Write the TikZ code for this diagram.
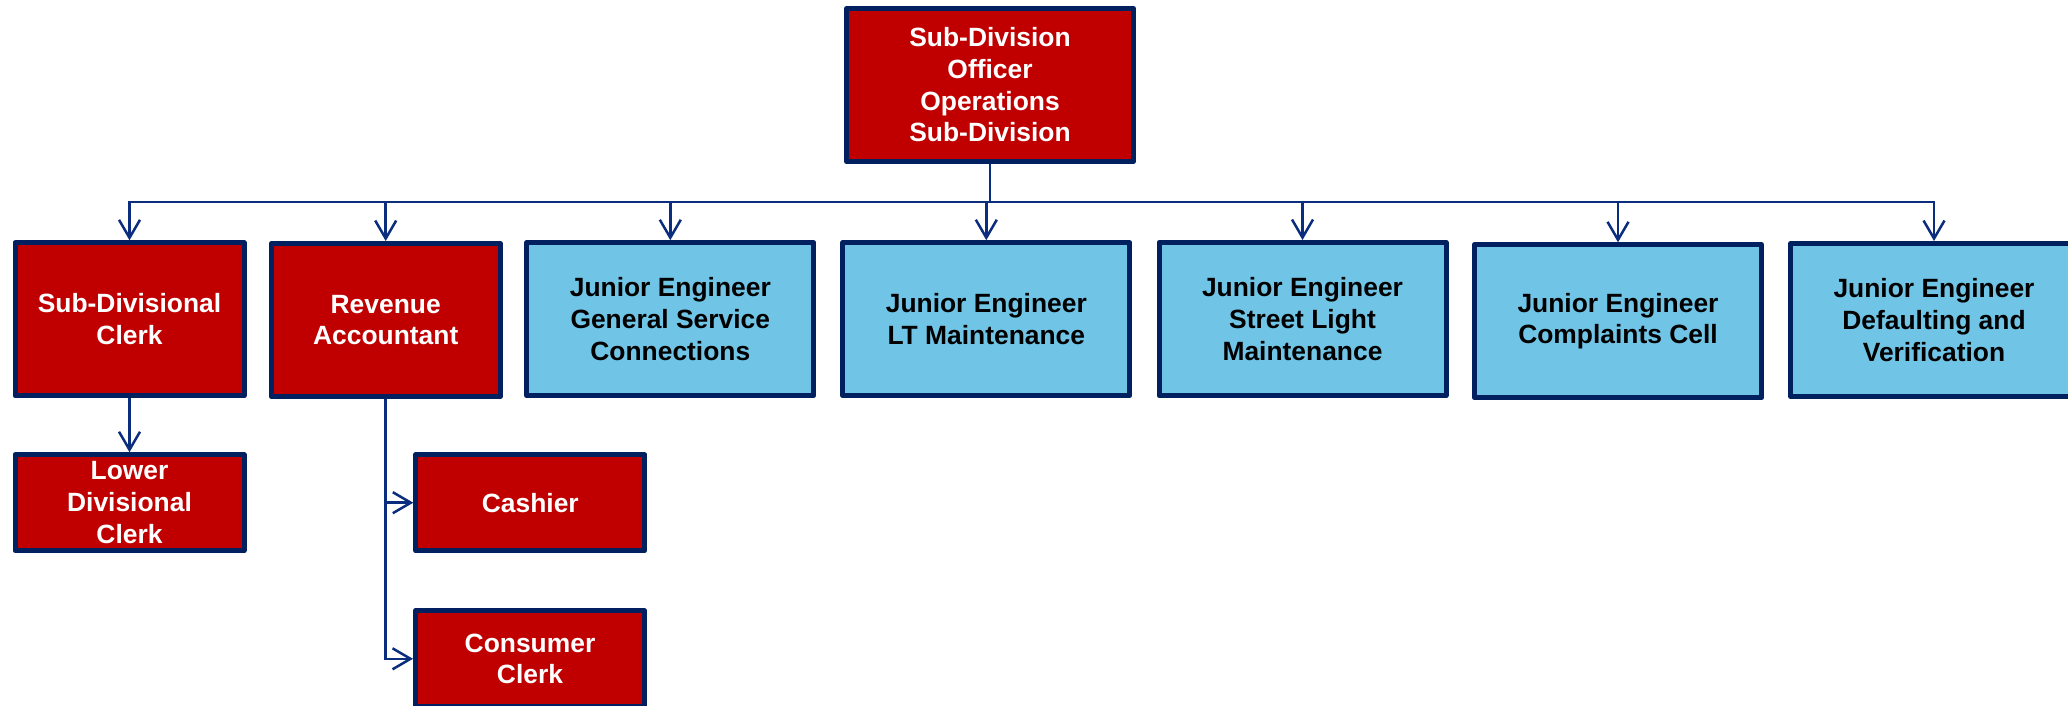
\documentclass[tikz,border=0pt]{standalone}
\usepackage{fontspec}
\setmainfont{Liberation Sans}
\usetikzlibrary{arrows.meta}
\definecolor{boxred}{HTML}{C00000}
\definecolor{boxblue}{HTML}{70C4E6}
\definecolor{navy}{HTML}{002060}
\definecolor{wire}{HTML}{0B2D7D}

\begin{document}
\begin{tikzpicture}[x=1pt,y=-1pt,
  unit/.style={draw=navy, line width=5pt, line join=round, rectangle,
    inner sep=0pt, align=center,
    font=\bfseries\fontsize{26.4}{31.7}\selectfont},
  redunit/.style={unit, fill=boxred, text=white},
  blueunit/.style={unit, fill=boxblue, text=black},
  wideunit/.style={minimum width=287pt, minimum height=153pt},
  narrowunit/.style={minimum width=229pt, minimum height=153pt},
  lowunit/.style={minimum width=229pt, minimum height=96pt},
  link/.style={draw=wire, line width=2.5pt},
  feed/.style={link, -{Straight Barb[length=18pt,width=21pt]}},
]
\useasboundingbox (0,0) rectangle (2068,705);
\clip (0,0) rectangle (2068,705);

% head of the sub-division
\node[redunit, wideunit] (top) at (990,85) {Sub-Division\\Officer\\Operations\\Sub-Division};

% first level
\node[redunit, narrowunit] (sdc) at (129.5,319.3) {Sub-Divisional\\Clerk};
\node[redunit, narrowunit] (ra) at (385.7,320) {Revenue\\Accountant};
\node[blueunit, wideunit] (gsc) at (670.3,319.2) {Junior Engineer\\General Service\\Connections};
\node[blueunit, wideunit] (lt) at (986.3,319.2) {Junior Engineer\\LT Maintenance};
\node[blueunit, wideunit] (sl) at (1302.5,319) {Junior Engineer\\Street Light\\Maintenance};
\node[blueunit, wideunit] (cc) at (1618,321.3) {Junior Engineer\\Complaints Cell};
\node[blueunit, wideunit] (dv) at (1934,320) {Junior Engineer\\Defaulting and\\Verification};

% second level
\node[redunit, lowunit] (ldc) at (129.5,502.7) {Lower\\Divisional\\Clerk};
\node[redunit, lowunit] (cash) at (530.3,502.7) {Cashier};
\node[redunit, lowunit] (cons) at (530,658.8) {Consumer\\Clerk};

% distribution bus
\coordinate (bus) at (0,202);
\draw[link] (top.south) -- (top.south |- bus);
\draw[link, line cap=rect] (sdc.north |- bus) -- (dv.north |- bus);
\foreach \n in {sdc,ra,gsc,lt,sl,cc,dv}
  \draw[feed] (\n.north |- bus) -- (\n.north);

% branches below
\draw[feed] (sdc.south) -- (ldc.north);
\draw[feed] (ra.south) -- (ra.south |- cons.west) -- (cons.west);
\draw[feed] (ra.south |- cash.west) -- (cash.west);
\end{tikzpicture}
\end{document}
